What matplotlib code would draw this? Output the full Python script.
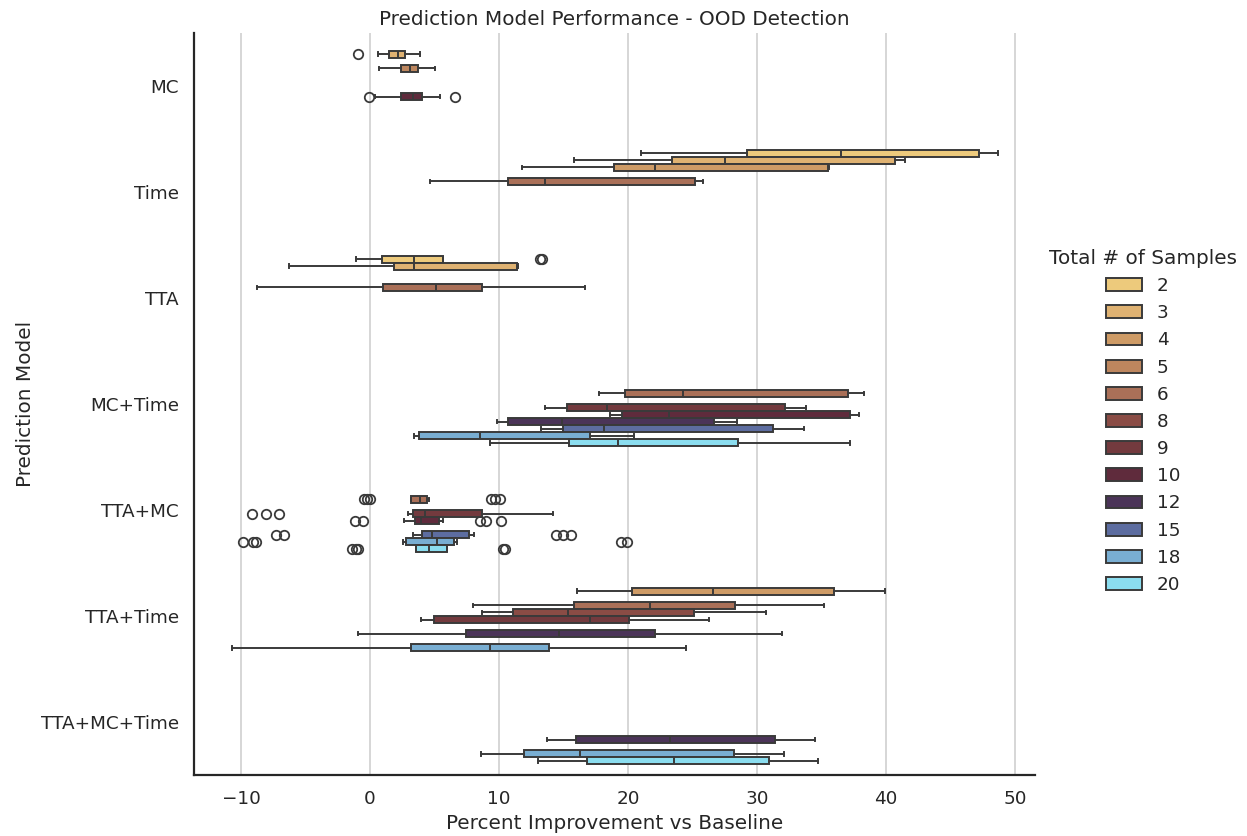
import numpy as np
import matplotlib.pyplot as plt
from matplotlib.patches import Patch

# modeliai ir imciu skaiciai (hue)
models = ['MC', 'Time', 'TTA', 'MC+Time', 'TTA+MC', 'TTA+Time', 'TTA+MC+Time']
samples = [2, 3, 4, 5, 6, 8, 9, 10, 12, 15, 18, 20]
colors = ['#EDCA7C', '#DFB272', '#CE9B66', '#BD865E', '#AA7058', '#8A4C45',
          '#733A3E', '#5F2B3C', '#4B3458', '#5D6DA0', '#79AED2', '#8BDDEF']

# [apatinis usas, Q1, mediana, Q3, virsutinis usas] kiekvienam imciu skaiciui
mc = {3: [0.6, 1.5, 2.17, 2.71, 3.9],
      5: [0.7, 2.43, 3.07, 3.72, 5.04],
      10: [0.41, 2.38, 3.36, 4.06, 5.43]}
time = {2: [21.0, 29.25, 36.5, 47.2, 48.7],
        3: [15.84, 23.44, 27.54, 40.7, 41.5],
        4: [11.8, 18.9, 22.1, 35.5, 35.6],
        6: [4.65, 10.7, 13.6, 25.2, 25.8]}
tta = {2: [-1.09, 0.91, 3.42, 5.65, 5.65],
       3: [-6.3, 1.84, 3.42, 11.4, 11.45],
       6: [-8.76, 0.98, 5.08, 8.68, 16.67]}
mc_time = {6: [17.77, 19.8, 24.27, 37.07, 38.26],
           9: [13.54, 15.29, 18.41, 32.17, 33.8],
           10: [18.62, 19.57, 23.16, 37.2, 37.92],
           12: [9.87, 10.67, 14.85, 26.7, 28.43],
           15: [13.25, 14.93, 18.15, 31.26, 33.64],
           18: [3.4, 3.78, 8.5, 17.07, 20.5],
           20: [9.28, 15.39, 19.19, 28.5, 37.2]}
tta_mc = {6: [3.14, 3.21, 3.84, 4.43, 4.56],
          9: [2.96, 3.32, 4.3, 8.67, 14.15],
          10: [2.67, 3.45, 3.94, 5.33, 5.65],
          15: [3.34, 4.07, 4.77, 7.64, 8.08],
          18: [2.59, 2.8, 5.23, 6.55, 6.73],
          20: [3.55, 3.55, 4.58, 5.96, 5.96]}
tta_time = {4: [16.03, 20.3, 26.6, 35.96, 39.93],
            6: [7.99, 15.79, 21.7, 28.33, 35.2],
            8: [8.7, 11.12, 15.32, 25.14, 30.69],
            9: [3.92, 4.93, 17.03, 20.09, 26.31],
            12: [-0.92, 7.42, 14.65, 22.11, 31.9],
            18: [-10.67, 3.21, 9.27, 13.87, 24.46]}
tta_mc_time = {12: [13.75, 15.98, 23.27, 31.37, 34.5],
               18: [8.58, 11.94, 16.31, 28.24, 32.07],
               20: [13.03, 16.8, 23.58, 30.9, 34.73]}

# isskirtys
fliers = {('MC', 3): [-0.9],
          ('MC', 10): [-0.1, 6.56],
          ('TTA', 2): [13.2, 13.35],
          ('TTA+MC', 6): [-0.43, -0.25, 0.0, 9.37, 9.71, 10.04],
          ('TTA+MC', 9): [-9.17, -8.09, -7.03],
          ('TTA+MC', 10): [-1.18, -0.51, 8.54, 9.0, 10.15],
          ('TTA+MC', 15): [-7.31, -6.64, 14.41, 14.93, 15.6],
          ('TTA+MC', 18): [-9.82, -9.04, -8.84, 19.45, 19.92],
          ('TTA+MC', 20): [-1.36, -1.1, -0.9, 10.3, 10.48]}

data = dict(zip(models, [mc, time, tta, mc_time, tta_mc, tta_time, tta_mc_time]))

edge = '#3a3a3a'
txt = '#262626'
plt.rcParams['text.color'] = txt
plt.rcParams['axes.labelcolor'] = txt
plt.rcParams['xtick.color'] = txt
plt.rcParams['ytick.color'] = txt

fig = plt.figure(figsize=(12.47, 8.36), dpi=100)
ax = fig.add_axes([0.1556, 0.073, 0.6744, 0.8875])

n = len(samples)
w = 0.8 / n
stats, pos, cols = [], [], []
for i, m in enumerate(models):
    for s, v in data[m].items():
        k = samples.index(s)
        stats.append(dict(whislo=v[0], q1=v[1], med=v[2], q3=v[3], whishi=v[4],
                          fliers=fliers.get((m, s), [])))
        pos.append(i - 0.4 + (k + 0.5) * w)
        cols.append(colors[k])

bp = ax.bxp(stats, positions=pos, widths=w, orientation='horizontal',
            patch_artist=True, capwidths=w * 0.5,
            boxprops=dict(edgecolor=edge, linewidth=1.4),
            medianprops=dict(color=edge, linewidth=1.4),
            whiskerprops=dict(color=edge, linewidth=1.4),
            capprops=dict(color=edge, linewidth=1.4),
            flierprops=dict(marker='o', markerfacecolor='none', markeredgecolor=edge,
                            markersize=6.8, markeredgewidth=1.3))
for b, c in zip(bp['boxes'], cols):
    b.set_facecolor(c)

ax.set_ylim(6.5, -0.5)
ax.set_xlim(-13.64, 51.55)
ax.set_yticks(range(len(models)))
ax.set_yticklabels(models)
ax.set_xticks(np.arange(-10, 51, 10))
ax.tick_params(length=0, labelsize=13.2, pad=11)
ax.grid(axis='x', color='#cccccc', linewidth=1.1)
ax.set_axisbelow(True)
for sp in ['top', 'right']:
    ax.spines[sp].set_visible(False)
for sp in ['left', 'bottom']:
    ax.spines[sp].set_color(txt)
    ax.spines[sp].set_linewidth(1.6)

ax.set_title('Prediction Model Performance - OOD Detection', fontsize=14.4)
ax.set_xlabel('Percent Improvement vs Baseline', fontsize=14.4)
ax.set_ylabel('Prediction Model', fontsize=14.4)

handles = [Patch(facecolor=c, edgecolor=edge, linewidth=1.4) for c in colors]
fig.legend(handles, [str(s) for s in samples], title='Total # of Samples',
           loc='center left', bbox_to_anchor=(0.828, 0.496), frameon=False,
           fontsize=13.2, title_fontsize=14.4)

fig.savefig('out.png', dpi=100)
